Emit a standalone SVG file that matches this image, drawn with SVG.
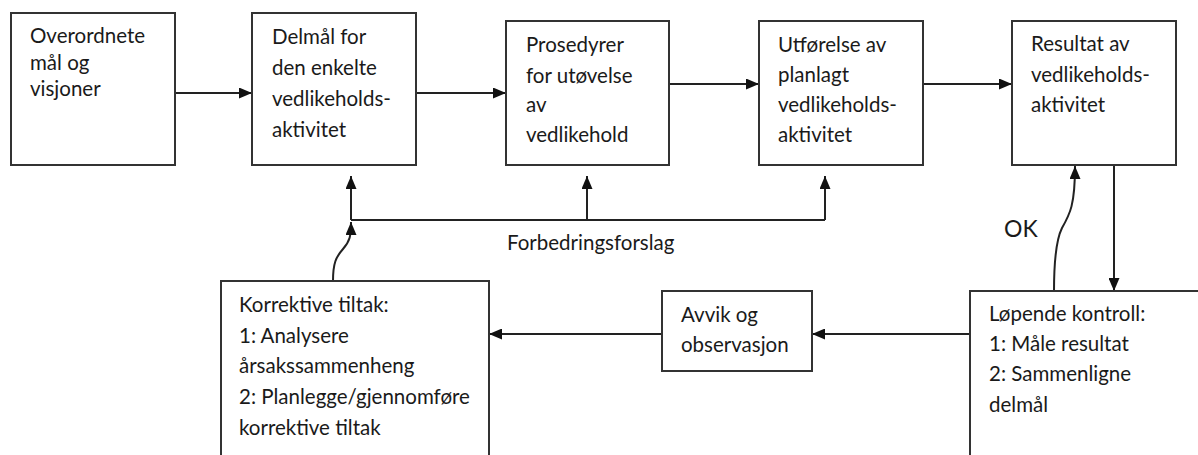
<svg xmlns="http://www.w3.org/2000/svg" width="1198" height="455" viewBox="0 0 1198 455">
  <defs>
    <marker id="arrow" viewBox="0 0 13 11" refX="13" refY="5.5" markerWidth="13" markerHeight="11" markerUnits="userSpaceOnUse" orient="auto">
      <path d="M0,0 L13,5.5 L0,11 z" fill="#111"/>
    </marker>
    <style>
      .box { fill: #fff; stroke: #333; stroke-width: 2; }
      .txt { font-family: Lato, "Liberation Sans", sans-serif; font-size: 20.5px; fill: #1a1a1a; }
      .big { font-size: 23px; }
      .conn { fill: none; stroke: #222; stroke-width: 2; }
      .conn-a { fill: none; stroke: #222; stroke-width: 2; marker-end: url(#arrow); }
    </style>
  </defs>
  <rect width="1198" height="455" fill="#fff"/>

  <!-- connectors -->
  <g id="connectors">
    <line class="conn-a" x1="175" y1="93" x2="252" y2="93"/>
    <line class="conn-a" x1="416" y1="93" x2="506" y2="93"/>
    <line class="conn-a" x1="669" y1="84" x2="759" y2="84"/>
    <line class="conn-a" x1="923" y1="84" x2="1012" y2="84"/>
    <!-- improvement proposals bus -->
    <line class="conn" x1="351" y1="220" x2="825" y2="220"/>
    <line class="conn-a" x1="351" y1="220" x2="351" y2="176"/>
    <line class="conn-a" x1="587" y1="220" x2="587" y2="176"/>
    <line class="conn-a" x1="825" y1="220" x2="825" y2="176"/>
    <path class="conn-a" d="M333,281 C333,263 336,257 343,249 C350,241 351,236 351,222"/>
    <!-- result to control loop -->
    <line class="conn-a" x1="1114" y1="165" x2="1114" y2="291"/>
    <path class="conn-a" d="M1054,291 C1054,262 1056,240 1062,228 C1070,214 1075,205 1075,166"/>
    <line class="conn-a" x1="970" y1="334" x2="812" y2="334"/>
    <line class="conn-a" x1="662" y1="334" x2="489" y2="334"/>
    <text class="txt" x="507" y="250">Forbedringsforslag</text>
    <text class="txt big" x="1004" y="237">OK</text>
  </g>

  <g id="overordnete">
    <rect class="box" x="11" y="13" width="164" height="152"/>
    <text class="txt" x="30" y="43">Overordnete</text>
    <text class="txt" x="30" y="70">mål og</text>
    <text class="txt" x="30" y="96">visjoner</text>
  </g>

  <g id="delmal">
    <rect class="box" x="252" y="13" width="164" height="152"/>
    <text class="txt" x="272" y="44">Delmål for</text>
    <text class="txt" x="272" y="75">den enkelte</text>
    <text class="txt" x="272" y="106">vedlikeholds-</text>
    <text class="txt" x="272" y="137">aktivitet</text>
  </g>

  <g id="prosedyrer">
    <rect class="box" x="506" y="21" width="163" height="144"/>
    <text class="txt" x="526" y="52">Prosedyrer</text>
    <text class="txt" x="526" y="83">for utøvelse</text>
    <text class="txt" x="526" y="112">av</text>
    <text class="txt" x="526" y="142">vedlikehold</text>
  </g>

  <g id="utforelse">
    <rect class="box" x="759" y="21" width="164" height="144"/>
    <text class="txt" x="778" y="52">Utførelse av</text>
    <text class="txt" x="778" y="82">planlagt</text>
    <text class="txt" x="778" y="112">vedlikeholds-</text>
    <text class="txt" x="778" y="142">aktivitet</text>
  </g>

  <g id="resultat">
    <rect class="box" x="1012" y="21" width="164" height="144"/>
    <text class="txt" x="1031" y="51">Resultat av</text>
    <text class="txt" x="1031" y="82">vedlikeholds-</text>
    <text class="txt" x="1031" y="112">aktivitet</text>
  </g>

  <g id="lopende-kontroll">
    <rect class="box" x="970" y="291" width="260" height="200"/>
    <text class="txt" x="989" y="321">Løpende kontroll:</text>
    <text class="txt" x="989" y="351">1: Måle resultat</text>
    <text class="txt" x="989" y="381">2: Sammenligne</text>
    <text class="txt" x="989" y="412">delmål</text>
  </g>

  <g id="avvik">
    <rect class="box" x="662" y="291" width="150" height="80"/>
    <text class="txt" x="681" y="322">Avvik og</text>
    <text class="txt" x="681" y="352">observasjon</text>
  </g>

  <g id="korrektive-tiltak">
    <rect class="box" x="221" y="281" width="268" height="210"/>
    <text class="txt" x="239" y="312">Korrektive tiltak:</text>
    <text class="txt" x="239" y="343">1: Analysere</text>
    <text class="txt" x="239" y="373">årsakssammenheng</text>
    <text class="txt" x="239" y="404">2: Planlegge/gjennomføre</text>
    <text class="txt" x="239" y="435">korrektive tiltak</text>
  </g>
</svg>
